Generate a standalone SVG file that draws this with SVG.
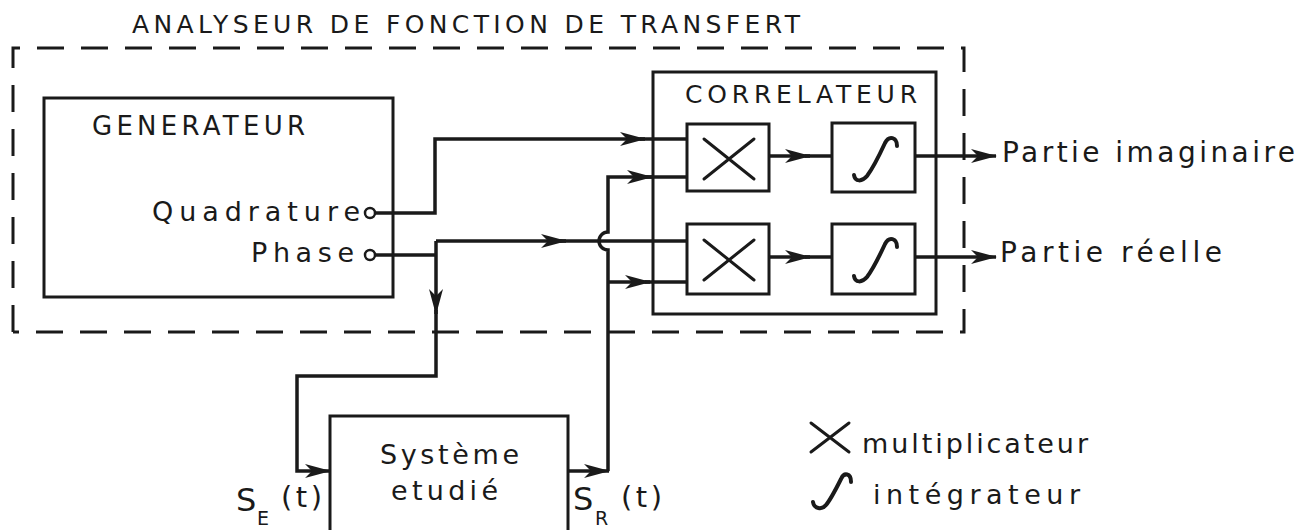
<svg xmlns="http://www.w3.org/2000/svg" width="1315" height="530" viewBox="0 0 1315 530">
<style>
.t{font-family:"DejaVu Sans","Liberation Sans",sans-serif;fill:#1a1a1a}
.box{fill:none;stroke:#1a1a1a;stroke-width:3}
.w{fill:none;stroke:#1a1a1a;stroke-width:3.5;stroke-linejoin:miter}
.thin{fill:none;stroke:#1a1a1a;stroke-width:3;stroke-linecap:round}
.int{fill:none;stroke:#1a1a1a;stroke-width:4;stroke-linecap:round}
.dash{fill:none;stroke:#1a1a1a;stroke-width:3;stroke-dasharray:27 17}
</style>
<defs>
<marker id="ar" viewBox="0 0 26 14" refX="25" refY="7" markerWidth="26" markerHeight="14" markerUnits="userSpaceOnUse" orient="auto">
<path d="M0,0 L26,7 L0,14 L7,7 z" fill="#1a1a1a"/>
</marker>
</defs>
<rect width="1315" height="530" fill="#fff"/>
<text class="t" x="132" y="33" font-size="25" textLength="668" lengthAdjust="spacing">ANALYSEUR DE FONCTION DE TRANSFERT</text>
<g id="frame"><path class="dash" d="M13,332 L13,48 L964,48 L964,332 L13,332"/></g>
<g id="generateur">
<rect class="box" x="44" y="98" width="349" height="199"/>
<text class="t" x="92" y="135" font-size="26" textLength="213" lengthAdjust="spacing">GENERATEUR</text>
<text class="t" x="152" y="221" font-size="27" textLength="208" lengthAdjust="spacing">Quadrature</text>
<text class="t" x="251" y="262" font-size="27" textLength="103" lengthAdjust="spacing">Phase</text>
<circle cx="370" cy="213" r="5" fill="#fff" stroke="#1a1a1a" stroke-width="2.5"/>
<circle cx="370" cy="255" r="5" fill="#fff" stroke="#1a1a1a" stroke-width="2.5"/>
</g>
<g id="correlateur">
<rect class="box" x="653" y="72" width="283" height="242"/>
<text class="t" x="685" y="103" font-size="25" textLength="232" lengthAdjust="spacing">CORRELATEUR</text>
</g>
<g id="mult1"><rect class="box" x="687" y="124" width="82" height="67"/><path class="thin" d="M704,139 L754,179 M754,139 L704,179"/></g>
<g id="int1"><rect class="box" x="832" y="123" width="83" height="69"/><path class="int" d="M897,146 C897,137 889,135 885,143 C879,156 873,168 867,176 C862,182 855,182 854,175"/></g>
<g id="mult2"><rect class="box" x="687" y="224" width="82" height="70"/><path class="thin" d="M704,240 L754,280 M754,240 L704,280"/></g>
<g id="int2"><rect class="box" x="832" y="224" width="83" height="70"/><path class="int" d="M897,247 C897,238 889,236 885,244 C879,257 873,269 867,277 C862,283 855,283 854,276"/></g>
<g id="systeme">
<rect class="box" x="330" y="416" width="238" height="120"/>
<text class="t" x="380" y="464" font-size="27" textLength="139" lengthAdjust="spacing">Système</text>
<text class="t" x="391" y="500" font-size="27" textLength="107" lengthAdjust="spacing">etudié</text>
</g>
<g id="labels">
<text class="t" x="1002" y="162" font-size="28" textLength="293" lengthAdjust="spacing">Partie imaginaire</text>
<text class="t" x="1000" y="262" font-size="28" textLength="222" lengthAdjust="spacing">Partie réelle</text>
<text class="t" x="236" y="511" font-size="32">S</text><text class="t" x="257" y="525" font-size="19">E</text><text class="t" x="281" y="507" font-size="29" textLength="41" lengthAdjust="spacing">(t)</text>
<text class="t" x="573" y="510" font-size="32">S</text><text class="t" x="595" y="525" font-size="19">R</text><text class="t" x="621" y="507" font-size="29" textLength="41" lengthAdjust="spacing">(t)</text>
</g>
<g id="legende">
<path class="thin" d="M811,423 L849,452 M849,423 L811,452"/>
<text class="t" x="862" y="453" font-size="27" textLength="226" lengthAdjust="spacing">multiplicateur</text>
<path class="int" d="M851,482 C851,473 844,472 841,479 C836,489 831,499 826,505 C822,510 814,509 813,502"/>
<text class="t" x="873" y="504" font-size="27" textLength="207" lengthAdjust="spacing">intégrateur</text>
</g>
<g id="connecteurs">
<path class="w" d="M375,213 L435,213 L435,139 L645,139" marker-end="url(#ar)"/>
<path class="w" d="M640,139 L687,139"/>
<path class="w" d="M375,255 L436,255"/>
<path class="w" d="M436,241 L566,241" marker-end="url(#ar)"/>
<path class="w" d="M560,241 L687,241"/>
<path class="w" d="M436,241 L436,314" marker-end="url(#ar)"/>
<path class="w" d="M436,310 L436,376 L297,376 L297,471 L330,471" marker-end="url(#ar)"/>
<path class="w" d="M568,471 L609,471" marker-end="url(#ar)"/>
<path class="w" d="M608,471 L608,250 A9,9 0 0 1 608,232 L608,177 L652,177" marker-end="url(#ar)"/>
<path class="w" d="M645,177 L687,177"/>
<path class="w" d="M608,282 L650,282" marker-end="url(#ar)"/>
<path class="w" d="M645,282 L687,282"/>
<path class="w" d="M769,156 L810,156" marker-end="url(#ar)"/>
<path class="w" d="M805,156 L832,156"/>
<path class="w" d="M769,257 L810,257" marker-end="url(#ar)"/>
<path class="w" d="M805,257 L832,257"/>
<path class="w" d="M915,156 L996,156" marker-end="url(#ar)"/>
<path class="w" d="M915,257 L996,257" marker-end="url(#ar)"/>
</g>
</svg>
